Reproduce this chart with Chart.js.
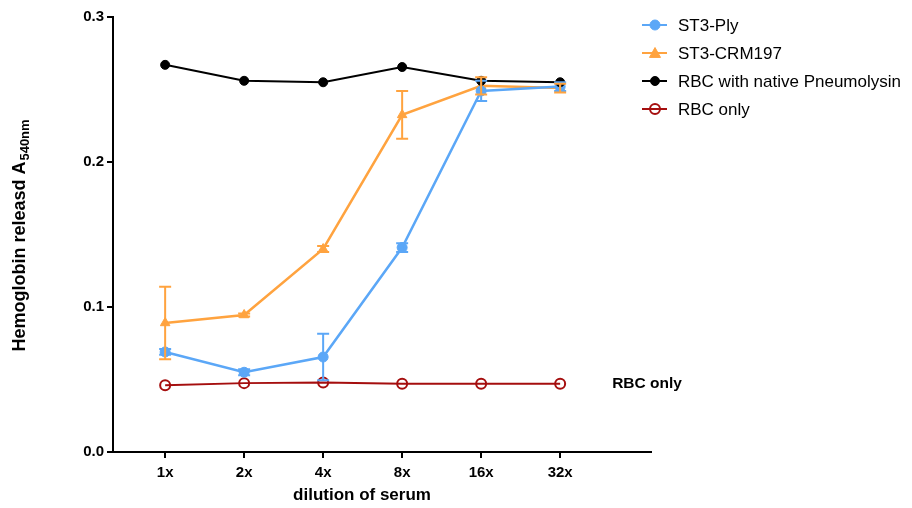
<!DOCTYPE html>
<html>
<head>
<meta charset="utf-8">
<script src="https://cdn.jsdelivr.net/npm/chart.js@4.4.1/dist/chart.umd.min.js"></script>
<style>
  html, body { margin: 0; padding: 0; background: #fff; }
  #wrap { width: 912px; height: 508px; position: relative; }
</style>
</head>
<body>
<div id="wrap"><canvas id="chart"></canvas></div>
<script>
// dilution steps along the x axis
const dilutions = ['1x', '2x', '4x', '8x', '16x', '32x'];

// hemoglobin released (A540nm)
const st3Ply = [0.069, 0.055, 0.0655, 0.141, 0.249, 0.252];
const st3PlyErr = [0.002, 0.002, 0.016, 0.003, 0.007, 0.003];
const st3Crm = [0.089, 0.0945, 0.140, 0.2325, 0.2525, 0.251];
const st3CrmErr = [0.025, 0.001, 0.002, 0.0165, 0.006, 0.003];
const rbcNative = [0.267, 0.256, 0.255, 0.2655, 0.256, 0.255];
const rbcOnly = [0.046, 0.0475, 0.048, 0.047, 0.047, 0.047];

const BLUE = '#5ba7f7';
const ORANGE = '#ffa33f';
const BLACK = '#000000';
const RED = '#a50e0e';

const toPoints = arr => arr.map((v, i) => ({ x: i, y: v }));

// error bars drawn through the chart's own scales
const errorBars = {
    id: 'errorBars',
    afterDatasetsDraw(chart) {
        const ctx = chart.ctx;
        const xs = chart.scales.x, ys = chart.scales.y;
        chart.data.datasets.forEach(ds => {
            if (!ds.errors) return;
            ctx.save();
            ctx.strokeStyle = ds.borderColor;
            ctx.lineWidth = 2;
            ds.data.forEach((p, i) => {
                const e = ds.errors[i];
                const px = xs.getPixelForValue(p.x);
                const top = ys.getPixelForValue(p.y + e);
                const bot = ys.getPixelForValue(p.y - e);
                ctx.beginPath();
                ctx.moveTo(px, top); ctx.lineTo(px, bot);
                ctx.moveTo(px - 6, top); ctx.lineTo(px + 6, top);
                ctx.moveTo(px - 6, bot); ctx.lineTo(px + 6, bot);
                ctx.stroke();
            });
            ctx.restore();
        });
    }
};

// titles, legend and the in-plot label
const decorations = {
    id: 'decorations',
    afterDraw(chart) {
        const ctx = chart.ctx;
        ctx.save();
        ctx.fillStyle = '#000';

        // x axis title
        ctx.font = 'bold 17px "Liberation Sans", Arial, sans-serif';
        ctx.textAlign = 'center';
        ctx.textBaseline = 'middle';
        ctx.fillText('dilution of serum', 362, 495);

        // y axis title with subscript
        ctx.save();
        ctx.translate(20, 236);
        ctx.rotate(-Math.PI / 2);
        const main = 'Hemoglobin releasd A';
        const sub = '540nm';
        ctx.font = 'bold 18px "Liberation Sans", Arial, sans-serif';
        const wMain = ctx.measureText(main).width;
        ctx.font = 'bold 13px "Liberation Sans", Arial, sans-serif';
        const wSub = ctx.measureText(sub).width;
        const start = -(wMain + wSub) / 2;
        ctx.textAlign = 'left';
        ctx.font = 'bold 18px "Liberation Sans", Arial, sans-serif';
        ctx.fillText(main, start, 0);
        ctx.font = 'bold 13px "Liberation Sans", Arial, sans-serif';
        ctx.fillText(sub, start + wMain + 1, 5);
        ctx.restore();

        // label at the end of the RBC only line
        const last = rbcOnly.length - 1;
        const lx = chart.scales.x.getPixelForValue(last) + 52;
        const ly = chart.scales.y.getPixelForValue(rbcOnly[last]);
        ctx.font = 'bold 15.5px "Liberation Sans", Arial, sans-serif';
        ctx.textAlign = 'left';
        ctx.fillText('RBC only', lx, ly);

        // legend
        const rows = [25, 53, 81, 109];
        ctx.font = '17px "Liberation Sans", Arial, sans-serif';
        chart.data.datasets.forEach((ds, i) => {
            const y = rows[i];
            ctx.strokeStyle = ds.borderColor;
            ctx.lineWidth = 2;
            ctx.beginPath();
            ctx.moveTo(642, y); ctx.lineTo(667, y);
            ctx.stroke();
            ctx.fillStyle = ds.pointBackgroundColor;
            ctx.lineWidth = ds.pointBorderWidth;
            ctx.beginPath();
            if (ds.pointStyle === 'triangle') {
                const r = ds.pointRadius;
                ctx.moveTo(655, y - r);
                ctx.lineTo(655 + r, y + r * 0.8);
                ctx.lineTo(655 - r, y + r * 0.8);
                ctx.closePath();
            } else {
                ctx.arc(655, y, ds.pointRadius, 0, Math.PI * 2);
            }
            ctx.fill();
            ctx.stroke();
            ctx.fillStyle = '#000';
            ctx.fillText(ds.label, 678, y + 1);
        });
        ctx.restore();
    }
};

new Chart(document.getElementById('chart'), {
    type: 'line',
    data: {
        datasets: [
            {
                label: 'ST3-Ply',
                data: toPoints(st3Ply),
                errors: st3PlyErr,
                borderColor: BLUE,
                backgroundColor: BLUE,
                pointBackgroundColor: BLUE,
                pointStyle: 'circle',
                pointRadius: 5,
                pointBorderWidth: 1,
                borderWidth: 2.5,
                order: 2
            },
            {
                label: 'ST3-CRM197',
                data: toPoints(st3Crm),
                errors: st3CrmErr,
                borderColor: ORANGE,
                backgroundColor: ORANGE,
                pointBackgroundColor: ORANGE,
                pointStyle: 'triangle',
                pointRadius: 5.5,
                pointBorderWidth: 1,
                borderWidth: 2.5,
                order: 3
            },
            {
                label: 'RBC with native Pneumolysin',
                data: toPoints(rbcNative),
                borderColor: BLACK,
                backgroundColor: BLACK,
                pointBackgroundColor: BLACK,
                pointStyle: 'circle',
                pointRadius: 4.5,
                pointBorderWidth: 1,
                borderWidth: 2,
                order: 1
            },
            {
                label: 'RBC only',
                data: toPoints(rbcOnly),
                borderColor: RED,
                backgroundColor: 'rgba(0,0,0,0)',
                pointBackgroundColor: 'rgba(0,0,0,0)',
                pointStyle: 'circle',
                pointRadius: 5,
                pointBorderWidth: 2,
                borderWidth: 2,
                order: 4
            }
        ]
    },
    options: {
        responsive: true,
        maintainAspectRatio: false,
        animation: false,
        layout: { padding: { top: 17, right: 261, bottom: 0, left: 0 } },
        plugins: {
            legend: { display: false },
            tooltip: { enabled: false }
        },
        elements: { line: { tension: 0 } },
        scales: {
            x: {
                type: 'linear',
                min: -0.66,
                max: 6.15,
                afterBuildTicks: scale => {
                    scale.ticks = dilutions.map((_, i) => ({ value: i }));
                },
                afterFit: scale => { scale.height = 56; },
                grid: {
                    drawOnChartArea: false,
                    drawTicks: true,
                    tickLength: 6,
                    color: '#000',
                    lineWidth: 2
                },
                border: { color: '#000', width: 2 },
                ticks: {
                    color: '#000',
                    padding: 6,
                    maxRotation: 0,
                    font: { family: '"Liberation Sans", Arial, sans-serif', size: 15, weight: 'bold' },
                    callback: v => dilutions[v]
                }
            },
            y: {
                min: 0,
                max: 0.3,
                afterFit: scale => { scale.width = 113; },
                grid: {
                    drawOnChartArea: false,
                    drawTicks: true,
                    tickLength: 6,
                    color: '#000',
                    lineWidth: 2
                },
                border: { color: '#000', width: 2 },
                ticks: {
                    stepSize: 0.1,
                    color: '#000',
                    padding: 3,
                    font: { family: '"Liberation Sans", Arial, sans-serif', size: 15, weight: 'bold' },
                    callback: v => v.toFixed(1)
                }
            }
        }
    },
    plugins: [errorBars, decorations]
});
</script>
</body>
</html>
